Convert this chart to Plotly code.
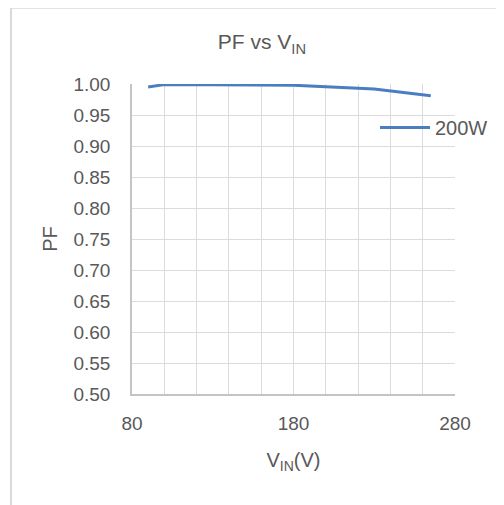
import plotly.graph_objects as go

vin = [90, 100, 180, 230, 265]
pf_200w = [0.995, 0.999, 0.998, 0.992, 0.981]
series_name = "200W"

FONT = "Liberation Sans, Arial, sans-serif"
TXT = "#595959"
GRID = "#dcdcdc"

fig = go.Figure()
fig.add_trace(go.Scatter(x=vin, y=pf_200w, mode="lines", name=series_name,
                         line=dict(color="#4A7EC0", width=3)))

fig.update_layout(
    width=496, height=497,
    margin=dict(l=124, r=48, t=76, b=111),
    paper_bgcolor="white", plot_bgcolor="white",
    font=dict(family=FONT, size=19, color=TXT),
    title=dict(text="PF vs V<sub>IN</sub>", x=0.512, xanchor="center",
               y=0.932, yanchor="middle", font=dict(size=21, color=TXT)),
    showlegend=True,
    legend=dict(x=0.75, y=0.86, xanchor="left", yanchor="middle",
                bgcolor="rgba(0,0,0,0)", font=dict(size=20, color=TXT),
                itemwidth=50),
    xaxis=dict(range=[80, 280], tickvals=[80, 180, 280], showgrid=True,
               gridcolor=GRID, gridwidth=1,
               minor=dict(dtick=20, tick0=80, showgrid=True, gridcolor=GRID, gridwidth=1),
               showline=True, linecolor="#c4c4c4", linewidth=1.5,
               ticks="outside", ticklen=11, tickcolor="rgba(0,0,0,0)",
               zeroline=False,
               title=dict(text="V<sub>IN</sub>(V)", standoff=20,
                          font=dict(size=20, color=TXT))),
    yaxis=dict(range=[0.5, 1.0], dtick=0.05, tick0=0.5, tickformat=".2f",
               showgrid=True, gridcolor=GRID, gridwidth=1,
               showline=True, linecolor="#c4c4c4", linewidth=1.5,
               ticks="outside", ticklen=16, tickcolor="rgba(0,0,0,0)",
               zeroline=False,
               title=dict(text="PF", standoff=10, font=dict(size=20, color=TXT))),
    shapes=[dict(type="rect", xref="paper", yref="paper",
                 x0=-0.3747, x1=1.2, y0=-0.4, y1=1.246,
                 line=dict(color="#d9d9d9", width=2), fillcolor="rgba(0,0,0,0)",
                 layer="below")],
)

fig.write_html("out.html")
